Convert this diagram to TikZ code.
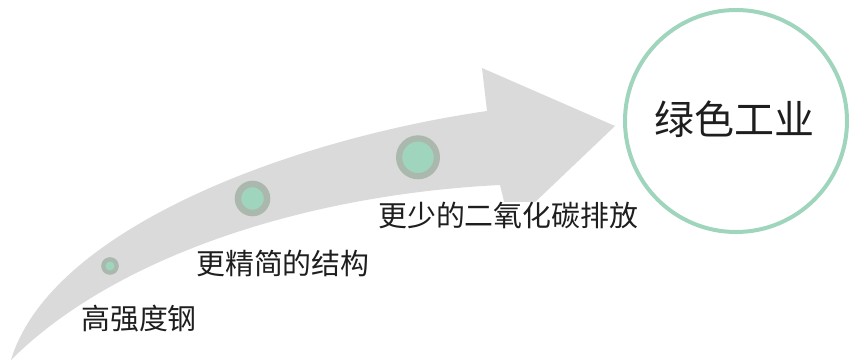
\documentclass[tikz,border=0pt]{standalone}
\usepackage{fontspec}
\newfontfamily\cjk{Noto Sans CJK SC}
\definecolor{arrowgray}{RGB}{218,218,218}
\definecolor{ringgray}{RGB}{170,184,173}
\definecolor{dotgreen}{RGB}{160,213,189}
\definecolor{txtcol}{RGB}{30,30,30}
\begin{document}
\begin{tikzpicture}[x=1pt,y=-1pt,
  steptext/.style={font=\cjk\fontsize{28.9}{30}\selectfont, text=txtcol, inner sep=0pt, anchor=west},
  dotnode/.style={circle, fill=dotgreen, draw=ringgray, inner sep=0pt},
]
\useasboundingbox (0,0) rectangle (852,361);
% curved arrow
\fill[arrowgray] (11,360) .. controls (50,230) and (287,140) .. (487,111)
  -- (482,68) -- (615,126) -- (510,226) -- (500,185)
  .. controls (300,195) and (112,259) .. (11,360) -- cycle;
% dots
\node[dotnode, line width=4.3pt, minimum size=13.3pt] (d1) at (110,266) {};
\node[dotnode, line width=6.5pt, minimum size=29.1pt] (d2) at (252.5,198.5) {};
\node[dotnode, line width=6.2pt, minimum size=37.8pt] (d3) at (418,157.3) {};
% labels
\node[steptext] (t1) at (81,319) {高强度钢};
\node[steptext] (t2) at (196,263.5) {更精简的结构};
\node[steptext, fill=white] (t3) at (378,215) {更少的二氧化碳排放};
% goal circle
\node[circle, draw=dotgreen, line width=4pt, minimum size=222pt, inner sep=0pt] (goal) at (736,121) {};
\node[font=\cjk\fontsize{40}{42}\selectfont, text=txtcol, inner sep=0pt] (goaltext) at (734,119) {绿色工业};
\end{tikzpicture}
\end{document}
